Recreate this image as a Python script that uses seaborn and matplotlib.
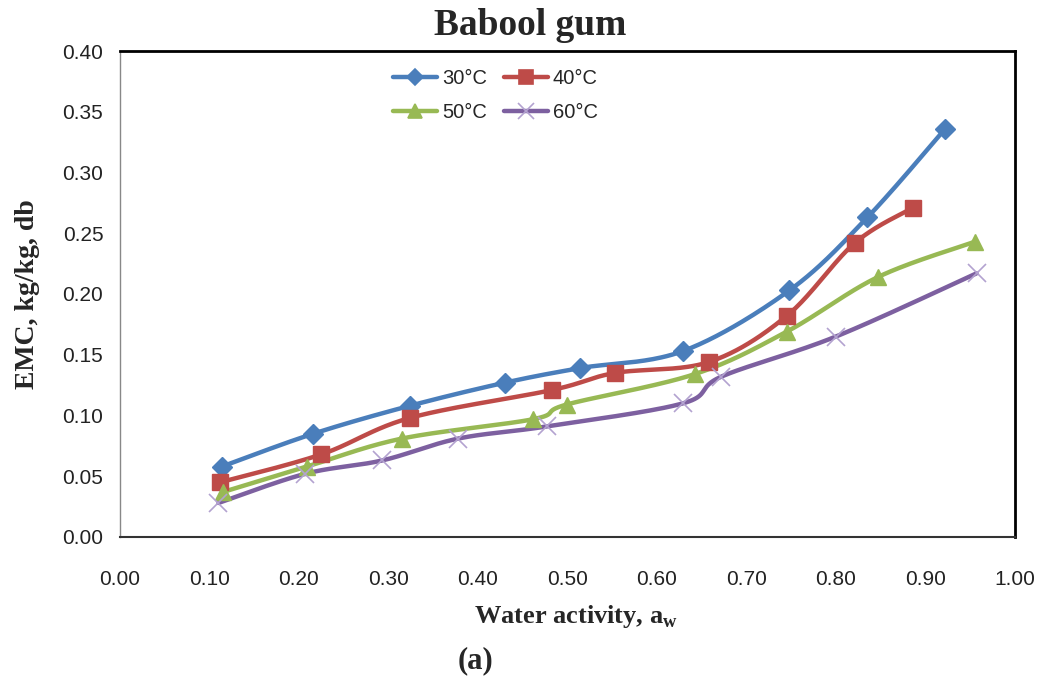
import numpy as np
import pandas as pd
import seaborn as sns
import matplotlib.pyplot as plt
from matplotlib.lines import Line2D

# 读取数据
aw_30 = [0.114, 0.216, 0.324, 0.430, 0.514, 0.629, 0.748, 0.835, 0.922]
emc_30 = [0.058, 0.085, 0.108, 0.127, 0.139, 0.153, 0.203, 0.263, 0.336]
aw_40 = [0.112, 0.225, 0.324, 0.483, 0.553, 0.658, 0.745, 0.821, 0.886]
emc_40 = [0.045, 0.068, 0.098, 0.121, 0.135, 0.144, 0.182, 0.242, 0.271]
aw_50 = [0.115, 0.209, 0.315, 0.462, 0.499, 0.642, 0.745, 0.847, 0.955]
emc_50 = [0.037, 0.058, 0.081, 0.097, 0.109, 0.134, 0.169, 0.214, 0.243]
aw_60 = [0.110, 0.207, 0.293, 0.378, 0.477, 0.629, 0.672, 0.800, 0.957]
emc_60 = [0.028, 0.052, 0.063, 0.081, 0.091, 0.110, 0.132, 0.165, 0.217]

series = ["30°C", "40°C", "50°C", "60°C"]
x_ticks = [0.0, 0.1, 0.2, 0.3, 0.4, 0.5, 0.6, 0.7, 0.8, 0.9, 1.0]
y_ticks = [0.0, 0.05, 0.10, 0.15, 0.20, 0.25, 0.30, 0.35, 0.40]

df = pd.concat([
    pd.DataFrame({"aw": aw_30, "emc": emc_30, "T": "30°C"}),
    pd.DataFrame({"aw": aw_40, "emc": emc_40, "T": "40°C"}),
    pd.DataFrame({"aw": aw_50, "emc": emc_50, "T": "50°C"}),
    pd.DataFrame({"aw": aw_60, "emc": emc_60, "T": "60°C"}),
], ignore_index=True)

colors = {"30°C": "#4a7ebb", "40°C": "#be4b48", "50°C": "#98b954", "60°C": "#7d60a0"}
mcolors = {"30°C": "#4a7ebb", "40°C": "#be4b48", "50°C": "#98b954", "60°C": "#b3a2d0"}
markers = {"30°C": "D", "40°C": "s", "50°C": "^", "60°C": "x"}
msizes = {"30°C": 10, "40°C": 12, "50°C": 12, "60°C": 13}


def smooth(x, y, n=40):
    # Excel-style smoothed line (bezier through the points)
    p = np.column_stack([x, y])
    p = np.vstack([p[0], p, p[-1]])
    t = np.linspace(0, 1, n)[:, None]
    segs = []
    for i in range(1, len(p) - 2):
        p0, p1, p2, p3 = p[i - 1], p[i], p[i + 1], p[i + 2]
        c1 = p1 + (p2 - p0) / 6
        c2 = p2 - (p3 - p1) / 6
        segs.append((1 - t) ** 3 * p1 + 3 * (1 - t) ** 2 * t * c1 + 3 * (1 - t) * t ** 2 * c2 + t ** 3 * p2)
    s = np.vstack(segs)
    return s[:, 0], s[:, 1]


sns.set_style("white")
plt.rcParams["font.family"] = ["Liberation Sans Narrow", "Liberation Sans", "DejaVu Sans"]

fig = plt.figure(figsize=(10.37, 6.81), dpi=100)
ax = fig.add_axes([0.1157, 0.2115, 0.8631, 0.7136])

handles = {}
for name in series:
    d = df[df["T"] == name]
    sx, sy = smooth(d["aw"].values, d["emc"].values)
    sns.lineplot(x=sx, y=sy, sort=False, estimator=None, color=colors[name], lw=3.2, ax=ax)
    if name == "60°C":
        ax.plot(d["aw"], d["emc"], ls="none", marker="x", ms=msizes[name], mew=1.2,
                color=mcolors[name], zorder=3)
    else:
        ax.plot(d["aw"], d["emc"], ls="none", marker=markers[name], ms=msizes[name],
                color=mcolors[name], mec=mcolors[name], zorder=3)
    handles[name] = Line2D([], [], color=colors[name], lw=3.2, marker=markers[name],
                           ms=msizes[name] * 0.85, mfc=mcolors[name], mec=mcolors[name], mew=1.2)

ax.set_xlim(0, 1.0)
ax.set_ylim(0, 0.40)
ax.set_xticks(x_ticks)
ax.set_yticks(y_ticks)
ax.set_xticklabels([f"{v:.2f}" for v in x_ticks])
ax.set_yticklabels([f"{v:.2f}" for v in y_ticks])
ax.tick_params(axis="both", direction="out", length=6, width=1, color="#888888",
               labelsize=15, labelcolor="#222222")
ax.tick_params(axis="x", pad=18)
ax.tick_params(axis="y", pad=6)

for side in ["top", "right"]:
    ax.spines[side].set_color("black")
    ax.spines[side].set_linewidth(2)
ax.spines["bottom"].set_color("#333333")
ax.spines["bottom"].set_linewidth(1.5)
ax.spines["left"].set_color("#888888")
ax.spines["left"].set_linewidth(1)

# row 1: 30, 40 ; row 2: 50, 60 (legend fills by column)
order = ["30°C", "50°C", "40°C", "60°C"]
ax.legend([handles[k] for k in order], order, ncol=2, frameon=False, loc="upper left",
          bbox_to_anchor=(0.285, 1.0), fontsize=14.5, handlelength=2.2,
          columnspacing=0.8, labelspacing=0.75, handletextpad=0.25)

serif = ["Liberation Serif", "DejaVu Serif"]
fig.text(0.511, 0.962, "Babool gum", ha="center", va="center", family=serif,
         fontweight="bold", fontsize=27)
ax.set_ylabel("EMC, kg/kg, db", family=serif, fontweight="bold", fontsize=20, labelpad=16)
ax.set_xlabel("")
fig.text(0.555, 0.095, "Water activity, a$_\\mathregular{w}$", ha="center", va="center",
         family=serif, fontweight="bold", fontsize=19)
fig.text(0.459, 0.03, "(a)", ha="center", va="center", family=serif,
         fontweight="bold", fontsize=22)

fig.savefig("out.png", dpi=100)
